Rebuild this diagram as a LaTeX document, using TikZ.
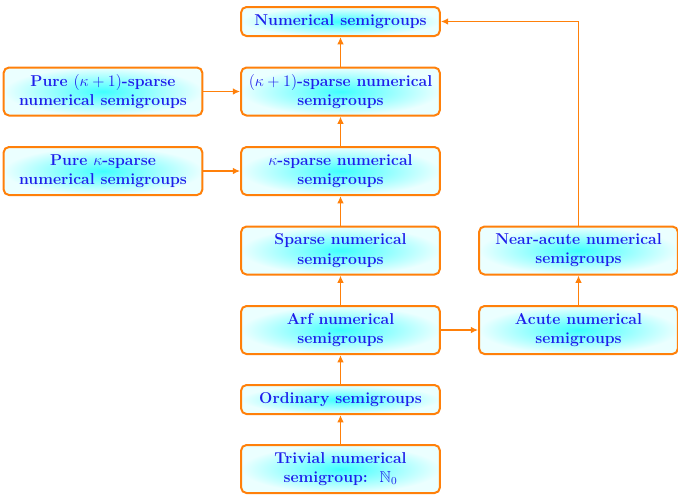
\documentclass[tikz,border=0pt]{standalone}
\usepackage{amssymb}
\usetikzlibrary{arrows.meta}
\definecolor{boxorange}{RGB}{255,128,10}
\definecolor{txtblue}{RGB}{30,30,235}
\tikzset{
  box/.style={draw=boxorange, line width=1.5pt, rounded corners=4pt,
    inner color=cyan!75, outer color=cyan!8,
    minimum width=149pt, align=center,
    font=\fontsize{11.8}{14.4}\selectfont\bfseries, text=txtblue, inner sep=2pt},
  tall/.style={minimum height=36pt},
  short/.style={minimum height=21.75pt},
  arr/.style={draw=boxorange, line width=1.4pt, -{Latex[length=5.5pt,width=5pt]}}
}
\begin{document}
\begin{tikzpicture}[x=0.75pt,y=-0.75pt]
\useasboundingbox (0,0) rectangle (678,494);
\node[box,short] (num) at (340.5,21.5) {Numerical semigroups};
\node[box,tall] (kp1) at (340.5,91.5) {$(\kappa+1)$-sparse numerical\\semigroups};
\node[box,tall] (pkp1) at (103,91.5) {Pure $(\kappa+1)$-sparse\\numerical semigroups};
\node[box,tall] (k) at (340.5,171) {$\kappa$-sparse numerical\\semigroups};
\node[box,tall] (pk) at (103,171) {Pure $\kappa$-sparse\\numerical semigroups};
\node[box,tall] (sp) at (340.5,250.5) {Sparse numerical\\semigroups};
\node[box,tall] (na) at (578.5,250.5) {Near-acute numerical\\semigroups};
\node[box,tall] (arf) at (340.5,330) {Arf numerical\\semigroups};
\node[box,tall] (ac) at (578.5,330) {Acute numerical\\semigroups};
\node[box,short] (ord) at (340.5,399.5) {Ordinary semigroups};
\node[box,tall] (triv) at (340.5,469) {Trivial numerical\\semigroup:~~$\mathbb{N}_0$};
\coordinate (corner) at (na.north |- num.east);
\draw[arr] (kp1) -- (num);
\draw[arr] (pkp1) -- (kp1);
\draw[arr] (k) -- (kp1);
\draw[arr] (pk) -- (k);
\draw[arr] (sp) -- (k);
\draw[arr] (arf) -- (sp);
\draw[arr] (arf) -- (ac);
\draw[arr] (ac) -- (na);
\draw[arr] (ord) -- (arf);
\draw[arr] (triv) -- (ord);
\draw[arr] (na.north) -- (corner) -- (num.east);
\end{tikzpicture}
\end{document}
